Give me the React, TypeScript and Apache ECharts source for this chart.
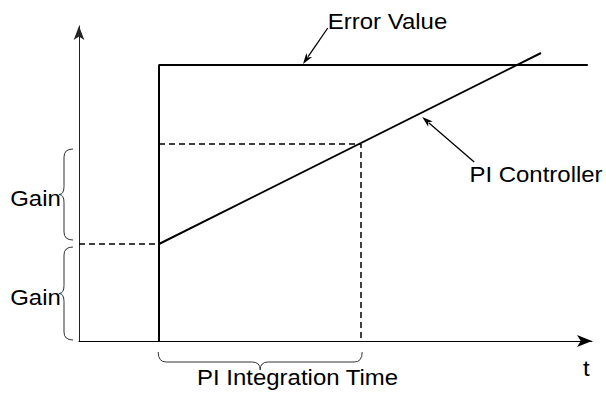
import React, { useEffect, useRef } from "react";
import * as echarts from "echarts";

// Error value step (time, value)
const errorT = [1, 1, 6.36];
const errorV = [0, 2.76, 2.76];
// PI controller output ramp
const piT = [1, 5.775];
const piV = [0.97, 2.88];
// Dashed guide: proportional gain level
const gainGuideT = [0, 1];
const gainGuideV = [0.97, 0.97];
// Dashed guide: integration time
const integGuideT = [1, 3.525, 3.525];
const integGuideV = [1.97, 1.97, 0];

// Braces: start and end points
const braceFrom = [[0.99, -0.11], [-0.075, 1.92], [-0.075, 0.94]];
const braceTo = [[3.54, -0.11], [-0.075, 1.01], [-0.075, 0.01]];

// Annotation arrows: from (label) to (tip)
const arrowFrom = [[3.11, 3.13], [4.94, 1.79]];
const arrowTo = [[2.8, 2.77], [4.29, 2.24]];

// Labels
const labelTexts = ["Error Value", "PI Controller", "Gain", "Gain", "PI Integration Time", "t"];
const labelT = [3.11, 4.88, -0.86, -0.86, 1.475, 6.34];
const labelV = [3.2, 1.67, 1.43, 0.44, -0.36, -0.27];
const labelAlign = ["left", "left", "left", "left", "left", "center"];

const FONT = "'Liberation Sans', Arial, Helvetica, sans-serif";

function pairs(xs: number[], ys: number[]) {
  return xs.map((x, i) => [x, ys[i]]);
}

function bracePath(p1: number[], p2: number[], body: number, tip: number, r: number) {
  const dx = p2[0] - p1[0];
  const dy = p2[1] - p1[1];
  const len = Math.hypot(dx, dy);
  const ux = dx / len;
  const uy = dy / len;
  const nx = -uy;
  const ny = ux;
  const P = (u: number, w: number) =>
    `${(p1[0] + ux * u + nx * w).toFixed(2)},${(p1[1] + uy * u + ny * w).toFixed(2)}`;
  const m = len / 2;
  return (
    `M${P(0, 0)} Q${P(0, body)} ${P(r, body)} L${P(m - r, body)} Q${P(m, body)} ${P(m, tip)} ` +
    `Q${P(m, body)} ${P(m + r, body)} L${P(len - r, body)} Q${P(len, body)} ${P(len, 0)}`
  );
}

export default function App() {
  const ref = useRef<HTMLDivElement>(null);
  useEffect(() => {
    if (!ref.current) return;
    const chart = echarts.init(ref.current, undefined, { renderer: "svg" });
    const solid = { color: "#000", width: 2 };
    const dashed = { color: "#000", width: 1.5, type: [6, 4] as any };
    chart.setOption({
      animation: false,
      backgroundColor: "#fff",
      grid: { left: 79, right: 14, top: 26, bottom: 60 },
      xAxis: {
        type: "value",
        min: 0,
        max: 6.4125,
        splitLine: { show: false },
        axisTick: { show: false },
        axisLabel: { show: false },
        axisLine: {
          show: true,
          symbol: ["none", "arrow"],
          symbolSize: [9, 15],
          lineStyle: { color: "#000", width: 1 },
        },
      },
      yAxis: {
        type: "value",
        min: 0,
        max: 3.15,
        splitLine: { show: false },
        axisTick: { show: false },
        axisLabel: { show: false },
        axisLine: {
          show: true,
          symbol: ["none", "arrow"],
          symbolSize: [8, 14],
          lineStyle: { color: "#222", width: 1 },
        },
      },
      series: [
        { type: "line", data: pairs(errorT, errorV), symbol: "none", clip: false, lineStyle: solid, z: 3 },
        { type: "line", data: pairs(piT, piV), symbol: "none", clip: false, lineStyle: solid, z: 3 },
        { type: "line", data: pairs(gainGuideT, gainGuideV), symbol: "none", clip: false, lineStyle: dashed, z: 2 },
        { type: "line", data: pairs(integGuideT, integGuideV), symbol: "none", clip: false, lineStyle: dashed, z: 2 },
        {
          type: "custom",
          clip: false,
          silent: true,
          data: braceFrom.map((p, i) => [p[0], p[1], braceTo[i][0], braceTo[i][1]]),
          encode: { x: [0, 2], y: [1, 3] },
          renderItem: (params: any, api: any) => {
            const a = api.coord([api.value(0), api.value(1)]);
            const b = api.coord([api.value(2), api.value(3)]);
            const horizontal = Math.abs(a[1] - b[1]) < 1;
            return {
              type: "path",
              shape: { pathData: bracePath(a, b, horizontal ? 10 : 9, horizontal ? 18 : 14, 8) },
              style: { fill: "none", stroke: "#333", lineWidth: 1 },
            };
          },
        },
        {
          type: "custom",
          clip: false,
          silent: true,
          data: arrowFrom.map((p, i) => [p[0], p[1], arrowTo[i][0], arrowTo[i][1]]),
          encode: { x: [0, 2], y: [1, 3] },
          renderItem: (params: any, api: any) => {
            const a = api.coord([api.value(0), api.value(1)]);
            const b = api.coord([api.value(2), api.value(3)]);
            const dx = b[0] - a[0];
            const dy = b[1] - a[1];
            const len = Math.hypot(dx, dy);
            const ux = dx / len;
            const uy = dy / len;
            const hl = 11;
            const hw = 3.5;
            const base = [b[0] - ux * hl, b[1] - uy * hl];
            return {
              type: "group",
              children: [
                {
                  type: "line",
                  shape: { x1: a[0], y1: a[1], x2: base[0] + ux * 2, y2: base[1] + uy * 2 },
                  style: { stroke: "#000", lineWidth: 1.3 },
                },
                {
                  type: "polygon",
                  shape: {
                    points: [
                      [b[0], b[1]],
                      [base[0] - uy * hw, base[1] + ux * hw],
                      [base[0] + ux * 3, base[1] + uy * 3],
                      [base[0] + uy * hw, base[1] - ux * hw],
                    ],
                  },
                  style: { fill: "#000" },
                },
              ],
            };
          },
        },
        {
          type: "custom",
          clip: false,
          silent: true,
          data: pairs(labelT, labelV),
          encode: { x: 0, y: 1 },
          renderItem: (params: any, api: any) => {
            const p = api.coord([api.value(0), api.value(1)]);
            const i = params.dataIndex;
            return {
              type: "text",
              x: p[0],
              y: p[1],
              scaleX: 1.09,
              style: {
                text: labelTexts[i],
                fontSize: 22,
                fontFamily: FONT,
                fill: "#000",
                align: labelAlign[i],
                verticalAlign: "middle",
              },
            };
          },
        },
      ],
    });
    return () => chart.dispose();
  }, []);
  return (
    <div
      ref={ref}
      style={{ position: "absolute", left: 0, top: 0, width: 606, height: 401 }}
    />
  );
}
